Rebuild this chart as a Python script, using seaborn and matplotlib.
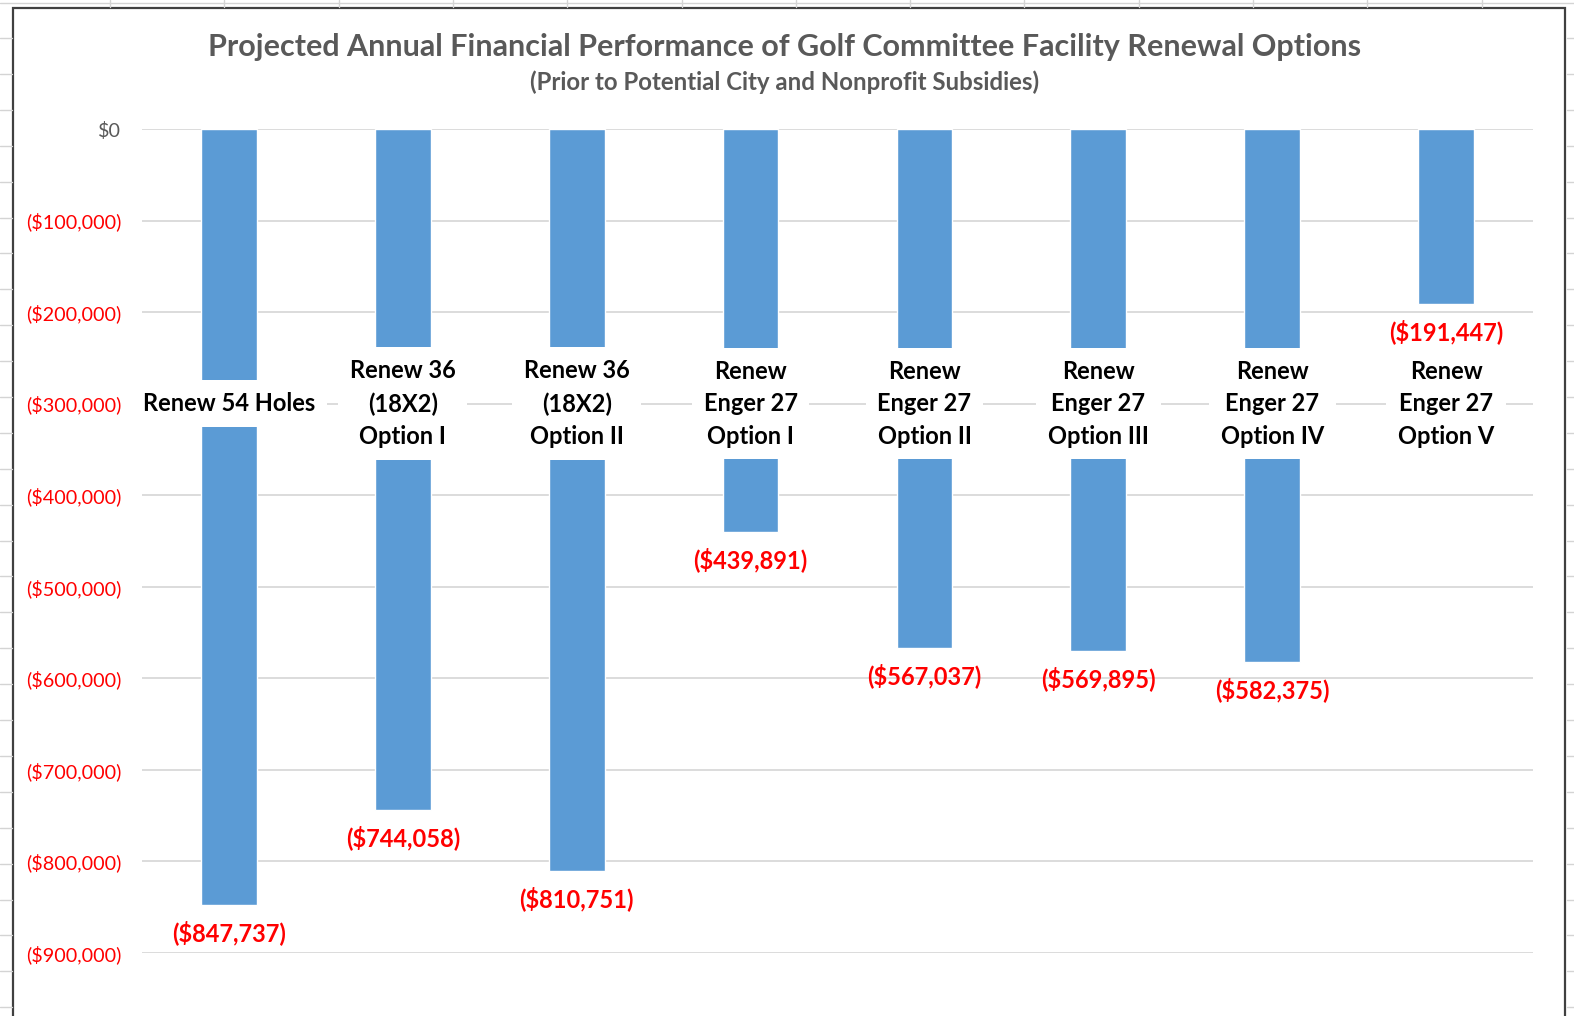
"""Golf facility renewal options: projected annual financial performance."""

import matplotlib

matplotlib.use("Agg")
import matplotlib.pyplot as plt
import seaborn as sns
from matplotlib.lines import Line2D
from matplotlib.patches import Rectangle

# --- data ------------------------------------------------------------------
options = [
    "Renew 54 Holes",
    "Renew 36\n(18X2)\nOption I",
    "Renew 36\n(18X2)\nOption II",
    "Renew\nEnger 27\nOption I",
    "Renew\nEnger 27\nOption II",
    "Renew\nEnger 27\nOption III",
    "Renew\nEnger 27\nOption IV",
    "Renew\nEnger 27\nOption V",
]
net_result = [-847737, -744058, -810751, -439891, -567037, -569895, -582375, -191447]
y_ticks = [0, -100000, -200000, -300000, -400000, -500000, -600000, -700000, -800000, -900000]
label_level = -300000

title = "Projected Annual Financial Performance of Golf Committee Facility Renewal Options"
subtitle = "(Prior to Potential City and Nonprofit Subsidies)"


def money(v):
    return f"${v:,.0f}" if v >= 0 else f"(${-v:,.0f})"


sns.set_theme(style="white")
plt.rcParams["font.family"] = ["Lato", "DejaVu Sans"]

BLUE = "#5B9BD5"
GREY_TEXT = "#595959"
RED = "#FF0000"

fig = plt.figure(figsize=(15.74, 10.16), dpi=100)
ax = fig.add_axes([142 / 1574, 1 - 953 / 1016, (1533 - 142) / 1574, (953 - 129) / 1016])

sns.barplot(x=options, y=net_result, color=BLUE, saturation=1, width=0.32, ax=ax, zorder=2)

ax.set_ylim(-900000, 0)
ax.set_xlim(-0.5, len(options) - 0.5)
ax.set_yticks(y_ticks)
ax.set_yticklabels([money(v) for v in y_ticks], fontsize=14.2)
for lbl, v in zip(ax.get_yticklabels(), y_ticks):
    lbl.set_color(GREY_TEXT if v == 0 else RED)
ax.tick_params(axis="y", length=0, pad=15)
ax.set_xticks([])
ax.set_xlabel("")
ax.set_ylabel("")
ax.yaxis.grid(True, color="#D9D9D9", linewidth=1.3)
ax.set_axisbelow(True)
sns.despine(ax=ax, left=True, bottom=True)

# value labels under each bar end
ax.bar_label(ax.containers[0], labels=[money(v) for v in net_result],
             padding=11, color=RED, fontweight="bold", fontsize=17)

# category labels sit on the -300k line in white boxes, masking the bars
for i, name in enumerate(options):
    ax.text(i, label_level, name, ha="center", va="center", multialignment="center",
            fontsize=17, fontweight="bold", color="black", linespacing=1.5, zorder=5,
            bbox=dict(boxstyle="square,pad=0.5", facecolor="white", edgecolor="none"))

fig.text(0.4987, 1 - 47 / 1016, title, ha="center", va="center",
         fontsize=22, fontweight="bold", color=GREY_TEXT)
fig.text(0.4987, 1 - 82 / 1016, subtitle, ha="center", va="center",
         fontsize=17.3, fontweight="bold", color=GREY_TEXT)

# chart frame and the spreadsheet cells peeking out around it
W, H = 1574, 1016
fig.add_artist(Rectangle((13 / W, -0.01), (1565 - 13) / W, 1.01 - 8 / H,
                         transform=fig.transFigure, fill=False,
                         edgecolor="#404040", linewidth=1.6))
cell = "#D4D4D4"
fig.add_artist(Line2D([0, 1], [1 - 3 / H] * 2, transform=fig.transFigure, color=cell, lw=1))
x = 110
while x < W:
    fig.add_artist(Line2D([x / W] * 2, [1 - 7 / H, 1], transform=fig.transFigure, color=cell, lw=1))
    x += 114.3
y = 38
while y < H:
    for x0, x1 in ((0, 12), (1567, W)):
        fig.add_artist(Line2D([x0 / W, x1 / W], [1 - y / H] * 2,
                              transform=fig.transFigure, color=cell, lw=1))
    y += 35.9

fig.savefig("out.png", dpi=100)
